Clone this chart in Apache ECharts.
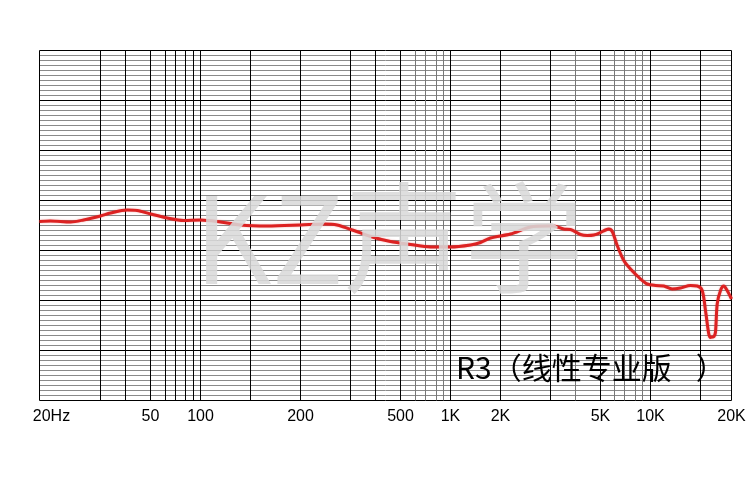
<!DOCTYPE html>
<html>
<head>
<meta charset="utf-8">
<script src="https://cdn.jsdelivr.net/npm/echarts@6/dist/echarts.min.js"></script>
<style>
html,body{margin:0;padding:0;background:#fff;}
#chart{width:750px;height:480px;}
</style>
</head>
<body>
<div id="chart"></div>
<script>
// Frequency-response paper: knots of the (non-uniform) frequency scale, in paper units
const axisKnotsHz    = [20, 30, 40, 50, 60, 70, 80, 90, 100, 150, 200, 300, 400, 500, 600, 700, 800, 900, 1000, 2000, 3000, 4000, 5000, 6000, 7000, 8000, 9000, 10000, 15000, 20000];
const axisKnotsUnits = [0, 61, 86, 111, 126, 136, 146, 154, 161, 211, 261, 311, 336, 361, 376, 386, 397, 404, 411, 461, 511, 536, 561, 575, 585, 596, 603, 611, 661, 692];
// light (minor) frequency lines
const minorLinesHz = [600, 700, 800, 900, 4000, 6000, 7000, 8000, 9000];
// tick labels
const tickHz     = [20, 50, 100, 200, 500, 1000, 2000, 5000, 10000, 20000];
const tickLabels = ['20Hz', '50', '100', '200', '500', '1K', '2K', '5K', '10K', '20K'];
// measured response (Hz, level in minor divisions)
const freqHz = [20, 21.5, 24.6, 26.8, 30, 33.7, 40.6, 44.4, 50, 61.6, 77.9, 100, 117.6, 138.3, 165, 200, 242, 269, 312, 378, 457, 565, 744, 1000, 1320, 1516, 1741, 2169, 2551, 2921, 3116, 3485, 3776, 4182, 4441, 4710, 5000, 5336, 5571, 5824, 6255, 6925, 7528, 8702, 9574, 10414, 11139, 11924, 12754, 13832, 14604, 15238, 15712, 16201, 16459, 16721, 17003, 17241, 17515, 18061, 18621, 19217, 20000];
const levelDb = [35.8, 35.9, 35.7, 36.1, 36.9, 37.5, 38.1, 38.0, 37.3, 36.5, 36.0, 36.1, 35.7, 35.1, 34.9, 35.1, 35.3, 35.1, 34.0, 32.8, 31.8, 31.2, 30.7, 30.7, 31.1, 31.6, 32.5, 33.3, 34.7, 34.9, 34.9, 34.3, 34.2, 33.2, 33.0, 33.1, 33.6, 34.1, 34.3, 33.8, 31.0, 28.0, 26.3, 24.3, 23.3, 23.0, 22.9, 22.3, 22.5, 23.0, 22.9, 22.0, 18.0, 13.3, 12.6, 12.7, 12.8, 13.7, 19.3, 22.0, 22.9, 22.0, 20.3];
const yMin = 0, yMax = 70, yStep = 10;
const modelParts = ['R3', '（', '线性专业版', '）'];
const watermark = 'KZ声学';

function toPaper(f) {
  const k = axisKnotsHz;
  if (f <= k[0]) return axisKnotsUnits[0];
  for (let i = 0; i < k.length - 1; i++) {
    if (f <= k[i + 1]) {
      const t = Math.log(f / k[i]) / Math.log(k[i + 1] / k[i]);
      return axisKnotsUnits[i] + t * (axisKnotsUnits[i + 1] - axisKnotsUnits[i]);
    }
  }
  return axisKnotsUnits[axisKnotsUnits.length - 1];
}

const xMax = toPaper(20000);
const lineData = freqHz.map((f, i) => [toPaper(f), levelDb[i]]);
const vLines = axisKnotsHz.map(f => ({
  xAxis: toPaper(f),
  lineStyle: { color: minorLinesHz.indexOf(f) >= 0 ? '#777' : '#000', width: 1, type: 'solid' }
}));
const labelMap = {};
tickHz.forEach((f, i) => { labelMap[Math.round(toPaper(f))] = tickLabels[i]; });

const titleFont = { fontFamily: 'Noto Sans CJK SC', fontSize: 30, color: '#111' };

const chart = echarts.init(document.getElementById('chart'), null, { renderer: 'canvas' });
chart.setOption({
  animation: false,
  backgroundColor: '#fff',
  grid: { left: 39.5, right: 750 - 731.5, top: 50.5, bottom: 480 - 400.5, containLabel: false },
  xAxis: {
    type: 'value', min: 0, max: xMax,
    axisLine: { show: false }, axisTick: { show: false }, splitLine: { show: false },
    axisLabel: {
      customValues: tickHz.map(toPaper),
      margin: 8,
      color: '#000', fontFamily: 'Liberation Sans', fontSize: 16,
      formatter: v => {
        const s = labelMap[Math.round(v)] || '';
        return s === '20Hz' ? '{a|' + s + '}' : s;
      },
      rich: { a: { padding: [0, 0, 0, 24], color: '#000', fontFamily: 'Liberation Sans', fontSize: 16 } }
    }
  },
  yAxis: {
    type: 'value', min: yMin, max: yMax, interval: yStep,
    axisLine: { show: false }, axisTick: { show: false }, axisLabel: { show: false },
    splitLine: { show: true, lineStyle: { color: '#000', width: 1 } },
    minorTick: { show: false, splitNumber: 10 },
    minorSplitLine: { show: true, lineStyle: { color: '#8a8a8a', width: 1 } }
  },
  graphic: [
    {
      type: 'text', left: 194, top: 178, z: 100, silent: true,
      style: { text: watermark, font: '120px "Noto Sans CJK SC"', fill: 'rgba(217,217,217,0.87)' }
    },
    {
      type: 'text', left: 456, top: 353, z: 50, silent: true,
      style: {
        text: '{t|' + modelParts[0] + '}{o|' + modelParts[1] + '}{t|' + modelParts[2] + '}{c|' + modelParts[3] + '}',
        rich: {
          t: titleFont,
          o: Object.assign({ padding: [0, 0, 0, 0] }, titleFont),
          c: Object.assign({ padding: [0, 0, 0, 24] }, titleFont)
        }
      }
    }
  ],
  series: [
    {
      type: 'line', data: [], z: 1, silent: true,
      markLine: { silent: true, symbol: ['none', 'none'], label: { show: false }, animation: false, data: vLines }
    },
    {
      type: 'line', data: lineData, z: 5, showSymbol: false, smooth: 0.3,
      lineStyle: { color: '#dc2222', width: 3, shadowColor: 'rgba(220,30,30,0.4)', shadowBlur: 2 }
    }
  ]
});
</script>
</body>
</html>
